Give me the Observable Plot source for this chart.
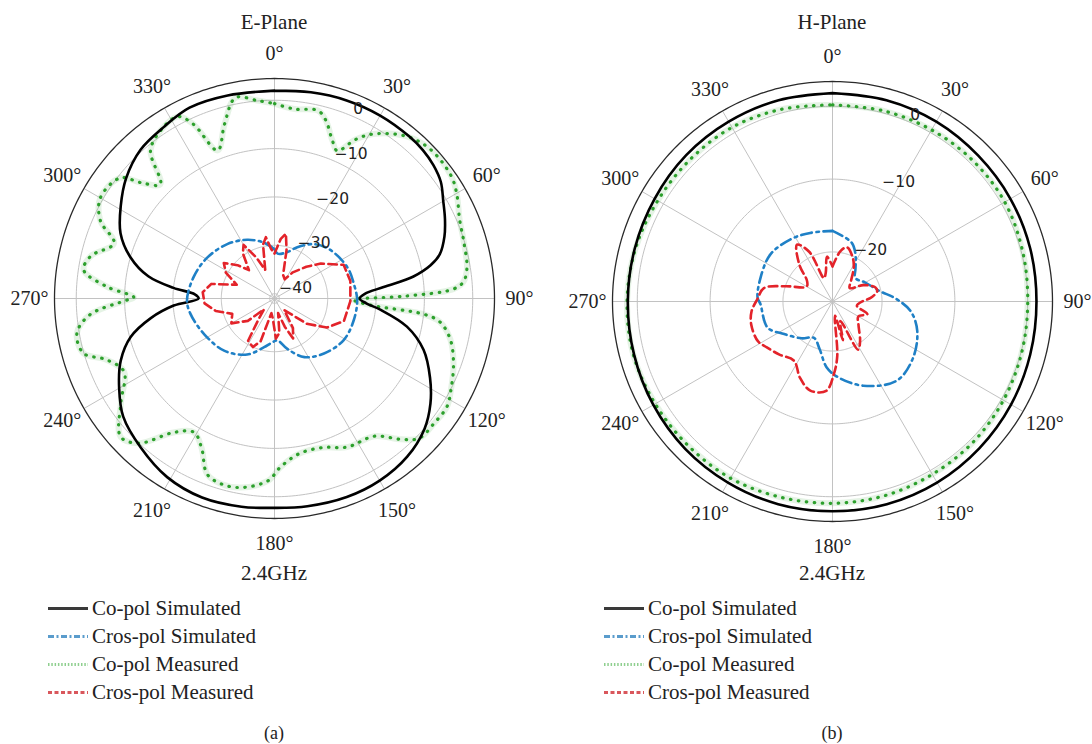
<!DOCTYPE html>
<html><head><meta charset="utf-8">
<script src="https://cdn.jsdelivr.net/npm/d3@7"></script>
<script src="https://cdn.jsdelivr.net/npm/@observablehq/plot@0.6"></script>
<style>
html,body{margin:0;padding:0;background:#fff}
body{width:1092px;height:744px;position:relative;overflow:hidden;font-family:"Liberation Serif",serif;color:#222}
.abs{position:absolute;white-space:nowrap}
.ctr{transform:translate(-50%,-50%)}
.title{font-size:21px}
.leg{font-size:21px;transform:translateY(-50%);display:flex;align-items:center}
.leg svg{margin-right:4px}
</style></head><body>
<script>
// ---------- data ----------
const angleTicks = [0,30,60,90,120,150,180,210,240,270,300,330];
const eRings = [-40,-30,-20,-10,0];
const hRings = [-20,-10,0];
const eRange = [-41, 4.5];
const hRange = [-26.8, 3.4];
const panelTitles = ["E-Plane", "H-Plane"];
const freqLabel = "2.4GHz";
const seriesNames = ["Co-pol Simulated", "Cros-pol Simulated", "Co-pol Measured", "Cros-pol Measured"];
const panelTags = ["(a)", "(b)"];

// E-plane
const eCoSimTheta = [0,10,20,30,40,45,50,55,60,65,70,75,78,81,84,87,90,93,96,102,109,117,124,131,140,150,160,171,180,189,200,211,222,232,240,248,255,261,266,270,273,276,280,286,293,301,309,318,327,336,347,360];
const eCoSimDb    = [2.0,2.3,2.6,2.7,2.6,2.4,1.9,1.0,-0.7,-2.1,-3.6,-5.6,-8.0,-11.9,-18.3,-22.3,-23.4,-22.0,-19.0,-13.0,-8.4,-4.9,-2.1,0.1,1.7,2.5,2.7,2.5,2.3,2.6,2.8,2.1,0.4,-1.3,-3.9,-6.7,-10.2,-15.1,-20.1,-25.3,-24.5,-20.0,-14.5,-10.0,-6.4,-3.9,-1.5,0.4,1.2,2.2,2.1,2.0];

const eCrossSimTheta = [0,4,15,24,36,49,67,80,91,105,121,138,153,166,176,184,192,206,224,243,260,269,285,301,319,335,349,360];
const eCrossSimDb    = [-30.8,-31.7,-31.1,-29.4,-27.1,-25.7,-24.6,-24.3,-23.9,-24.0,-24.3,-25.7,-27.4,-30.3,-32.3,-31.8,-30.7,-28.1,-26.0,-24.7,-23.3,-22.9,-23.7,-24.7,-26.1,-27.6,-29.2,-30.8];

const eCoMeasTheta = [0,6,13,16,20,23,27,31,39,46,55,60,67,73,81,85,87,89,91,94,96,98,103,110,117,122,128,134,138,144,154,162,171,178,182,190,196,201,206,211,217,223,228,236,244,250,254,260,265,269,270.5,274,278.5,283,289,294,300,308,311,315,320,326,332,335,339,344,349,355,360];
const eCoMeasDb    = [-0.7,-1.6,-1.1,-2.6,-6.1,-7.8,-4.1,-1.3,2.2,3.6,3.5,2.5,0.6,-0.1,-0.7,-1.8,-4.0,-14.0,-24.6,-21.0,-10.0,-6.5,-3.7,-1.6,0.0,1.1,0.9,0.6,-1.8,-5.8,-6.8,-8.6,-8.5,-6.1,-3.3,-1.3,-1.1,-2.1,-6.6,-8.7,-6.3,-0.1,1.8,-2.7,-6.4,-4.0,0.1,0.5,-2.7,-9.8,-11.9,-6.3,-1.1,-2.0,-5.9,-1.6,0.6,-0.5,-4.5,-7.6,-1.1,1.0,1.6,-1.2,-8.2,-3.5,1.3,0.1,-0.7];

const eCrossMeasTheta = [0,6,10,14,20,28,35,45,53,64,77,92,108,119,128,134,140,148,155,160,166,172,178,185,192,198,204,212,218,224,230,240,250,258,266,275,283,290,298,305,312,318,325,330,336,342,348,352,356,360];
const eCrossMeasDb    = [-31.7,-28.6,-27.4,-30.7,-35.8,-36.5,-34.4,-31.7,-29.0,-25.1,-24.9,-25.3,-25.9,-28.6,-32.5,-36.5,-37.9,-33.8,-31.9,-34.8,-37.9,-33.8,-32.7,-36.9,-37.9,-31.7,-30.0,-30.7,-35.8,-37.9,-33.8,-30.7,-31.7,-28.6,-26.5,-26.1,-27.6,-32.7,-29.6,-28.2,-30.7,-33.1,-29.6,-28.2,-31.7,-34.8,-29.6,-28.2,-30.7,-31.7];

// H-plane
const hCoTheta   = [0,15,30,45,60,75,90,105,120,135,150,165,180,195,210,225,240,255,270,285,300,315,330,345,360];
const hCoSimDb   = [1.8,1.8,1.7,1.5,1.4,1.3,1.2,1.3,1.5,1.7,1.9,2.0,2.0,2.0,1.9,1.8,1.6,1.4,1.3,1.3,1.4,1.6,1.7,1.8,1.8];
const hCoMeasDb  = [0.2,0.3,0.4,0.5,0.5,0.2,0.0,0.1,0.3,0.5,0.6,0.8,0.9,1.0,1.2,1.2,1.3,1.5,1.4,1.2,0.9,0.8,0.8,0.5,0.2];

const hCrossSimTheta = [0,18,26,35,44,60,78,87,97,109,125,141,160,176,185,195,207,220,236,248,268,273,288,307,326,342,360];
const hCrossSimDb    = [-17.1,-18.3,-19.6,-21.3,-22.3,-21.6,-20.1,-18.2,-16.0,-14.5,-13.3,-12.8,-14.5,-16.4,-17.7,-20.0,-21.2,-20.2,-18.8,-17.2,-16.9,-16.5,-16.4,-16.1,-16.5,-16.9,-17.1];

const hCrossMeasTheta = [0,9,15,25,32,42,52,62,72,77,85,89,100,110,120,132,145,152,158,165,170,175,179,184,194,203,213,225,235,242,254,263,272,281,288,300,309,318,328,335,340,347,353,360];
const hCrossMeasDb    = [-22.0,-19.8,-19.1,-20.2,-21.3,-23.0,-23.8,-22.0,-20.6,-20.5,-21.6,-22.6,-23.4,-21.7,-22.7,-22.0,-20.2,-19.3,-23.9,-21.3,-24.8,-19.3,-16.8,-14.5,-14.2,-15.4,-17.1,-16.5,-15.8,-15.2,-15.2,-15.6,-16.5,-17.2,-20.0,-22.7,-22.3,-20.0,-17.6,-19.3,-23.4,-22.7,-20.6,-22.0];

// ---------- styles ----------
const C = {black:"#000", blue:"#1f80c6", green:"#2ca02c", red:"#e3232a"};
const W = 548, Hh = 530, R = 220;

function panel(cfg) {
  const [dmin, dmax] = cfg.range;
  const Rd = dmax - dmin;
  const pol = (t, v) => { const rr = Math.max(0, v - dmin), a = t * Math.PI / 180; return [rr * Math.sin(a), rr * Math.cos(a)]; };
  const ser = (th, db) => th.map((t, i) => { const [x, y] = pol(t, db[i]); return {x, y}; });
  const circ = v => d3.range(0, 361, 1).map(t => { const [x, y] = pol(t, v); return {x, y}; });
  const labR = 245 / R * Rd;
  const fmt = v => v === 0 ? "0" : "\u2212" + Math.abs(v);
  const co = ser(cfg.coSim[0], cfg.coSim[1]);
  const cs = ser(cfg.crossSim[0], cfg.crossSim[1]);
  const cm = ser(cfg.coMeas[0], cfg.coMeas[1]);
  const xm = ser(cfg.crossMeas[0], cfg.crossMeas[1]);
  return Plot.plot({
    width: W, height: Hh, marginLeft: 54, marginRight: 54, marginTop: 48, marginBottom: 42,
    x: {domain: [-Rd, Rd], axis: null},
    y: {domain: [-Rd, Rd], axis: null},
    style: {background: "transparent", overflow: "visible"},
    marks: [
      ...cfg.rings.map(v => Plot.line(circ(v), {x: "x", y: "y", stroke: "#c2c2c2", strokeWidth: 1})),
      Plot.link(angleTicks, {x1: 0, y1: 0, x2: t => pol(t, dmax)[0], y2: t => pol(t, dmax)[1], stroke: "#c2c2c2", strokeWidth: 1}),
      Plot.line(circ(dmax), {x: "x", y: "y", stroke: "#2a2a2a", strokeWidth: 1.3}),
      Plot.line(cm, {x: "x", y: "y", stroke: C.green, strokeOpacity: 0.12, strokeWidth: 6, curve: "catmull-rom"}),
      Plot.line(cm, {x: "x", y: "y", stroke: C.green, strokeWidth: 3.2, strokeDasharray: "0.5,7.5", strokeLinecap: "round", curve: "catmull-rom"}),
      Plot.line(co, {x: "x", y: "y", stroke: C.black, strokeWidth: 2.6, curve: "catmull-rom"}),
      Plot.line(cs, {x: "x", y: "y", stroke: C.blue, strokeWidth: 2.6, strokeDasharray: "11,4.5,2.5,4.5", curve: "catmull-rom"}),
      Plot.line(xm, {x: "x", y: "y", stroke: C.red, strokeWidth: 2.6, strokeDasharray: "8.5,4.5", curve: cfg.redCurve}),
      Plot.text(cfg.rings, {x: v => pol(22.5, v)[0], y: v => pol(22.5, v)[1], text: fmt, textAnchor: "start", lineAnchor: "bottom", dx: 3, dy: -1, fontFamily: "DejaVu Sans", fontSize: 15.5, fill: "#222"}),
      Plot.text(angleTicks, {x: t => labR * Math.sin(t * Math.PI / 180), y: t => labR * Math.cos(t * Math.PI / 180), text: t => `${t}\u00b0`, fontFamily: "Liberation Serif", fontSize: 20, fill: "#222"})
    ]
  });
}

function place(el, left, top) { el.style.position = "absolute"; el.style.left = left + "px"; el.style.top = top + "px"; document.body.appendChild(el); }
function div(cls, text, left, top) { const d = document.createElement("div"); d.className = "abs " + cls; d.textContent = text; d.style.left = left + "px"; d.style.top = top + "px"; document.body.appendChild(d); return d; }

const panels = [
  {range: eRange, rings: eRings, coSim: [eCoSimTheta, eCoSimDb], crossSim: [eCrossSimTheta, eCrossSimDb], coMeas: [eCoMeasTheta, eCoMeasDb], crossMeas: [eCrossMeasTheta, eCrossMeasDb], redCurve: "linear", left: 0, top: 30, cx: 274, legX: 48},
  {range: hRange, rings: hRings, coSim: [hCoTheta, hCoSimDb], crossSim: [hCrossSimTheta, hCrossSimDb], coMeas: [hCoTheta, hCoMeasDb], crossMeas: [hCrossMeasTheta, hCrossMeasDb], redCurve: "catmull-rom", left: 558, top: 32.5, cx: 832, legX: 604}
];

const legendStyles = [
  {stroke: "#3a3a3a", dash: null, w: 3},
  {stroke: "#5a9ccc", dash: "6,2.5,2,2.5", w: 3},
  {stroke: "#8fcf8f", dash: "1.5,1.8", w: 3},
  {stroke: "#d9575c", dash: "4,2.5", w: 3}
];
const legRows = [608, 636, 664, 692];

panels.forEach((p, i) => {
  place(panel(p), p.left, p.top);
  div("title ctr", panelTitles[i], p.cx, 22);
  div("title ctr", freqLabel, p.cx, 573);
  div("title ctr", panelTags[i], p.cx, 733).style.fontSize = "18px";
  seriesNames.forEach((name, j) => {
    const d = document.createElement("div");
    d.className = "abs leg";
    d.style.left = p.legX + "px"; d.style.top = legRows[j] + "px";
    const s = legendStyles[j];
    d.innerHTML = `<svg width="40" height="8"><line x1="0" y1="4" x2="40" y2="4" stroke="${s.stroke}" stroke-width="${s.w}" ${s.dash ? `stroke-dasharray="${s.dash}"` : ""}/></svg><span>${name}</span>`;
    document.body.appendChild(d);
  });
});
</script>
</body></html>
